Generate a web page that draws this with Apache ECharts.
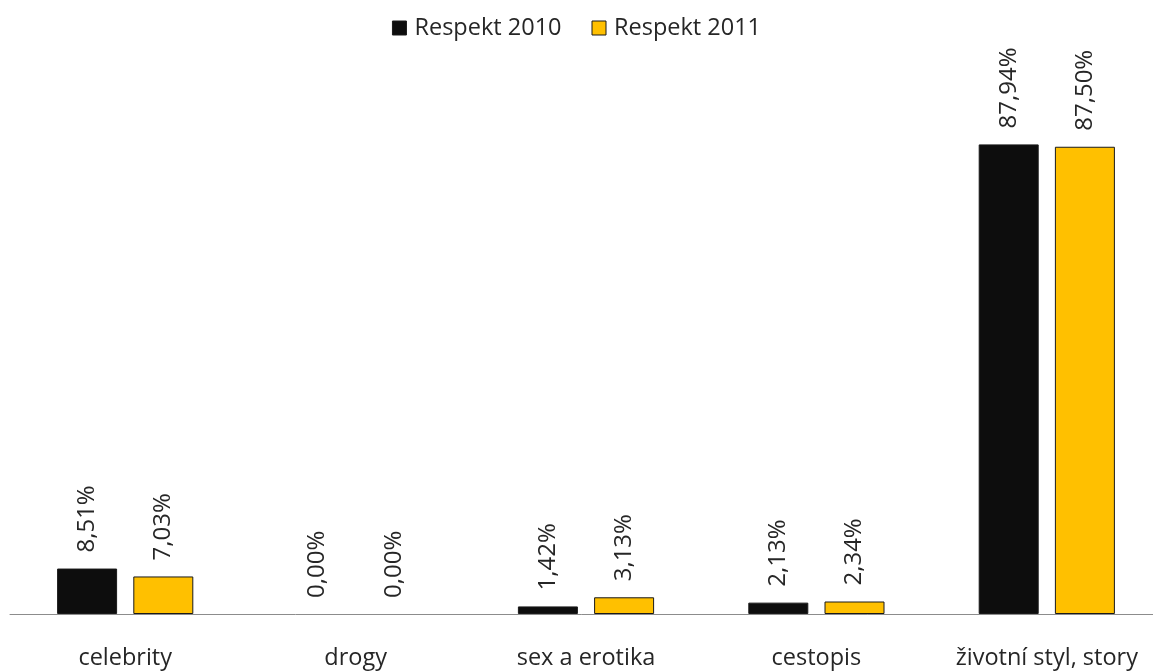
<!DOCTYPE html>
<html><head><meta charset="utf-8">
<script src="https://cdn.jsdelivr.net/npm/echarts@6/dist/echarts.min.js"></script>
<style>html,body{margin:0;padding:0;background:#fff}#c{width:1153px;height:671px}</style>
</head><body><div id="c"></div>
<script>
const categories = ["celebrity", "drogy", "sex a erotika", "cestopis", "životní styl, story"];
const seriesNames = ["Respekt 2010", "Respekt 2011"];
const values2010 = [8.51, 0.00, 1.42, 2.13, 87.94];
const values2011 = [7.03, 0.00, 3.13, 2.34, 87.50];
const colors = ["#0D0D0D", "#FFC000"];
const font = "Open Sans";

const chart = echarts.init(document.getElementById('c'));
const fmt = p => p.value.toFixed(2).replace('.', ',') + '%';
function mk(name, data, color) {
  return {
    name, type: 'bar',
    data: data.map(v => v === 0 ? { value: v, itemStyle: { borderWidth: 0, opacity: 0 } } : v),
    barWidth: 60, barGap: '27%',
    itemStyle: { color, borderColor: '#1a1a1a', borderWidth: 1 },
    label: { show: true, position: 'top', rotate: 90, align: 'left', verticalAlign: 'middle',
      distance: 16, formatter: fmt, fontFamily: font, fontSize: 24, color: '#262626', opacity: 1 }
  };
}
chart.setOption({
  animation: false,
  legend: { top: 11, left: 'center', itemWidth: 14, itemHeight: 14, itemGap: 30,
    textStyle: { fontFamily: font, fontSize: 23.5, color: '#262626', padding: [0, 0, 0, 3] },
    data: seriesNames.map((n, i) => ({ name: n, icon: 'rect',
      itemStyle: { color: colors[i], borderColor: '#1a1a1a', borderWidth: 1 } })) },
  grid: { left: 10, width: 1152, top: 80, bottom: 57, containLabel: false, outerBoundsMode: 'none' },
  xAxis: { type: 'category', data: categories,
    axisLine: { lineStyle: { color: '#8c8c8c', width: 1 } }, axisTick: { show: false },
    axisLabel: { margin: 32, fontFamily: font, fontSize: 23.5, color: '#262626', interval: 0 } },
  yAxis: { type: 'value', min: 0, max: 100, show: false, splitLine: { show: false } },
  series: [mk(seriesNames[0], values2010, colors[0]), mk(seriesNames[1], values2011, colors[1])]
});
</script></body></html>
